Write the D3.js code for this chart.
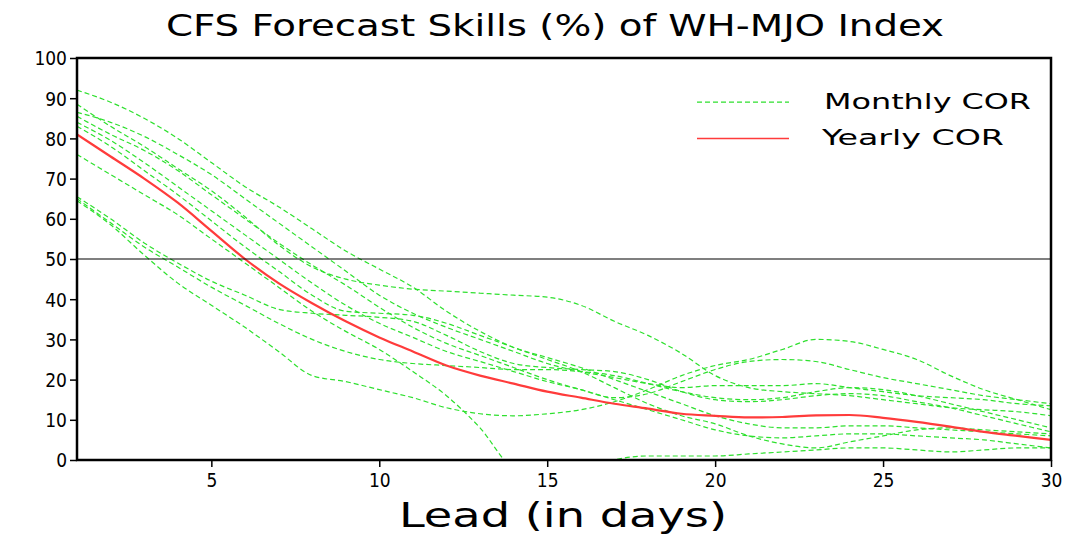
<!DOCTYPE html>
<html><head><meta charset="utf-8">
<script src="https://cdn.jsdelivr.net/npm/d3@7"></script>
<style>body{margin:0;background:#fff}svg{display:block}text{font-family:"DejaVu Sans Condensed","DejaVu Sans",sans-serif}</style>
</head><body>
<svg id="c" width="1070" height="535"></svg>
<script>
const leads = d3.range(1, 31);
const xTicks = [5, 10, 15, 20, 25, 30];
const yTicks = [0, 10, 20, 30, 40, 50, 60, 70, 80, 90, 100];
const yearly = [81,75.5,70,64,57,50,44,39,34.5,30.5,27,23.5,21,19,17,15.5,14,12.8,11.5,11,10.6,10.7,11.1,11.2,10.5,9.5,8.3,7,6,5];
const monthly1 = [92,89,85,80,74,68,63,57.5,52,47.5,43,37,32,28,25.5,23,20,17,14,11,9,8,8,8.5,8.5,8,7.5,7,6.5,6];
const monthly2 = [88.5,83,78,72.5,67,60.5,53.5,48,45,43.5,42.5,42,41.5,41,40.5,38.5,34.5,31,26.5,21,18,17,16.5,16,15,14,13,12.5,12,11];
const monthly3 = [86.5,84,80.5,76,71,65,59,53,47,41,36.5,33,30,27,24,22,20.5,19,18,18.5,18.5,18.5,19,18,17,16,15.5,15,14,13.5];
const monthly4 = [85.5,81,77,72,66,60,54,48.5,43.5,38,33,29,26,23,20,17.5,15.5,16.5,19.5,22.5,24.5,25,24.5,22.5,20.5,19,17.5,16,15,14];
const monthly5 = [84,79.5,74,68,62,56,50,44,38.5,34,30.5,27,24.5,22,19.5,17.5,15,12.5,10,7.5,6,5.5,6,6.5,6.5,6,5.5,5,4,3];
const monthly6 = [83,78,72,66,59.5,53,47,41,37,36.5,36,34,31,28,25,22,18,14,11,9,6,4,3,4.5,6,7.5,8,7.5,7,6.5];
const monthly7 = [76,71,66,61,55,49,43,37,32,27.5,22,16,8,-2,-4,-3,0,1,1,1,1.5,2,2.5,3,3,2.5,2,2.5,3,3];
const monthly8 = [64.5,58.5,51,44,38.5,33,27,21,19.5,17.5,15.5,13,11.5,11,11.5,12.5,14.5,17.5,21,23.5,25,27.5,30,29.5,27.5,25,21,17.5,15,12.5];
const monthly9 = [65.5,60,54,49,44.5,41,37.5,36.5,36,35.5,34.5,31,27,24,23,22.5,22,20,17,15,14.5,15,16,16.5,16,14.5,13,11,9,7];
const monthly10 = [65,59,53,48,43,38.5,34,30,27,25,24,23.5,23,22.5,22.5,22,21,19,17,15.5,15,15.5,17,18,17.5,16,14,12,10,8];
const monthlySeries = [monthly1,monthly2,monthly3,monthly4,monthly5,monthly6,monthly7,monthly8,monthly9,monthly10];
const legendLabels = ["Monthly COR", "Yearly COR"];
const titleText = "CFS Forecast Skills (%) of WH-MJO Index";
const xTitle = "Lead (in days)";

const svg = d3.select("#c");
const L = 77, R = 1051, T = 58, B = 460;
const x = d3.scaleLinear().domain([1, 30]).range([L, R]);
const y = d3.scaleLinear().domain([0, 100]).range([B, T]);
const green = "#2ee02e", red = "#ff3b3b";

svg.append("defs").append("clipPath").attr("id", "clip")
  .append("rect").attr("x", L).attr("y", T).attr("width", R - L).attr("height", B - T);

const line = d3.line().x((d, i) => x(leads[i])).y(d => y(d)).curve(d3.curveMonotoneX);
const g = svg.append("g").attr("clip-path", "url(#clip)");
monthlySeries.forEach(s => {
  g.append("path").attr("d", line(s)).attr("fill", "none").attr("stroke", green)
   .attr("stroke-width", 1.2).attr("stroke-dasharray", "5,3");
});
g.append("path").attr("d", line(yearly)).attr("fill", "none").attr("stroke", red).attr("stroke-width", 2.2);

// 50 reference line
svg.append("line").attr("x1", L).attr("x2", R).attr("y1", y(50)).attr("y2", y(50))
  .attr("stroke", "#000").attr("stroke-width", 1.2);

// axes
const ax = svg.append("g").attr("transform", `translate(0,${B})`)
  .call(d3.axisBottom(x).tickValues(xTicks).tickSize(7).tickSizeOuter(0).tickPadding(7));
const ay = svg.append("g").attr("transform", `translate(${L},0)`)
  .call(d3.axisLeft(y).tickValues(yTicks).tickSize(7).tickSizeOuter(0).tickPadding(3));
[ax, ay].forEach(a => {
  a.select(".domain").remove();
  a.selectAll("line").attr("stroke", "#000").attr("stroke-width", 1.5);
  a.selectAll("text").attr("font-size", 19).attr("fill", "#000").attr("font-weight", 300)
   .attr("font-family", "DejaVu Sans Condensed, DejaVu Sans, sans-serif");
});
ay.selectAll("text").attr("dy", "0.36em");

// frame
svg.append("rect").attr("x", L).attr("y", T).attr("width", R - L).attr("height", B - T)
  .attr("fill", "none").attr("stroke", "#000").attr("stroke-width", 2.5);

// title
svg.append("text").attr("x", 555).attr("y", 36).attr("text-anchor", "middle")
  .attr("font-size", 30).attr("font-weight", 300).attr("font-family", "Open Sans, DejaVu Sans, sans-serif")
  .attr("textLength", 778).attr("lengthAdjust", "spacingAndGlyphs")
  .text(titleText);
svg.append("text").attr("x", 563).attr("y", 527).attr("text-anchor", "middle")
  .attr("font-size", 34).attr("textLength", 328).attr("lengthAdjust", "spacingAndGlyphs")
  .attr("font-family", "DejaVu Sans").text(xTitle);

// legend
const leg = svg.append("g");
leg.append("line").attr("x1", 697).attr("x2", 789).attr("y1", y(89)).attr("y2", y(89))
  .attr("stroke", green).attr("stroke-width", 1.2).attr("stroke-dasharray", "5,3");
leg.append("line").attr("x1", 697).attr("x2", 789).attr("y1", y(80)).attr("y2", y(80))
  .attr("stroke", red).attr("stroke-width", 1.5);
leg.append("text").attr("x", 824).attr("y", y(89) + 7).attr("font-size", 21).attr("font-weight", 300)
  .attr("font-family", "Open Sans, DejaVu Sans, sans-serif").attr("textLength", 207).attr("lengthAdjust", "spacingAndGlyphs")
  .text(legendLabels[0]);
leg.append("text").attr("x", 822).attr("y", y(80) + 7).attr("font-size", 21).attr("font-weight", 300)
  .attr("font-family", "Open Sans, DejaVu Sans, sans-serif").attr("textLength", 182).attr("lengthAdjust", "spacingAndGlyphs")
  .text(legendLabels[1]);
</script>
</body></html>
